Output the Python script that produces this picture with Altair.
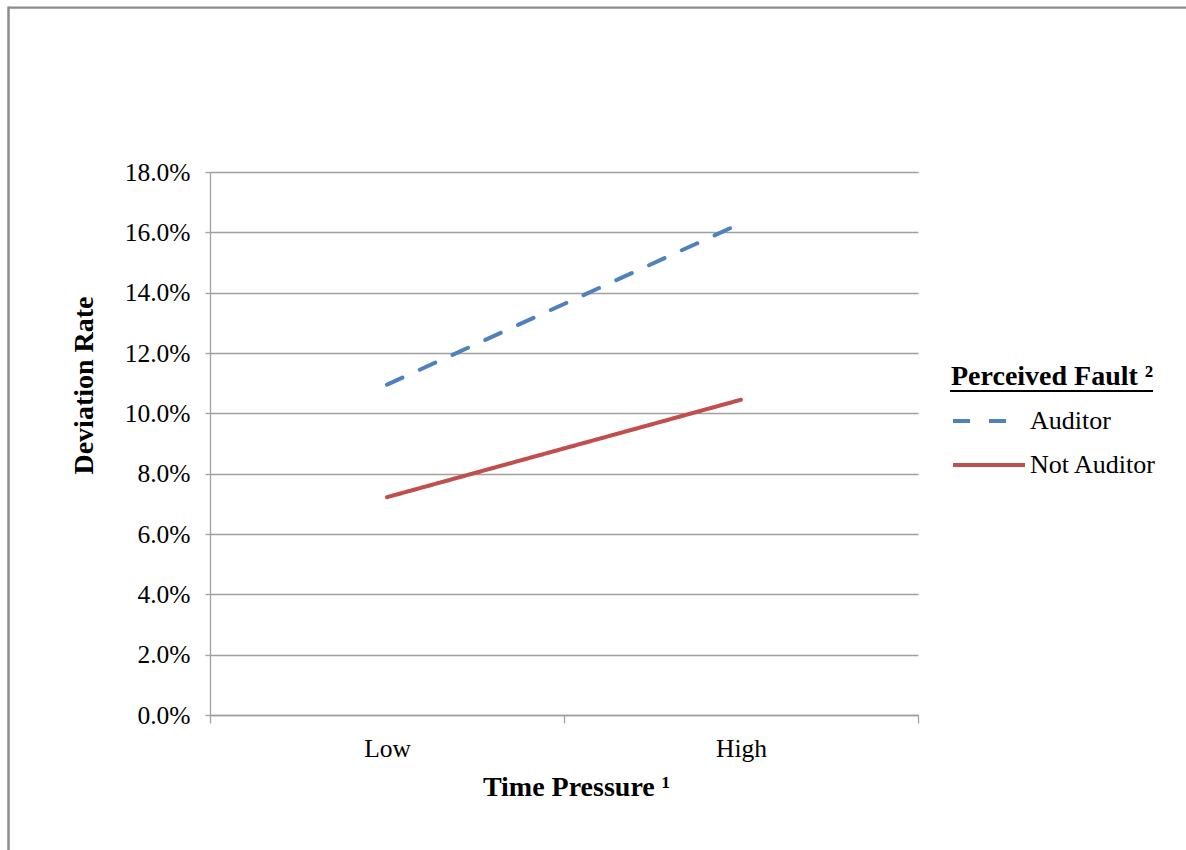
import altair as alt
import pandas as pd

# ---- data ----
time_pressure = ["Low", "High"]
fault_groups = ["Auditor", "Not Auditor"]
auditor_rate = [0.1095, 0.1630]
not_auditor_rate = [0.0722, 0.1045]
y_tick_values = [0.0, 0.02, 0.04, 0.06, 0.08, 0.10, 0.12, 0.14, 0.16, 0.18]
line_colors = ["#4F81BD", "#C0504D"]

rows = []
for tp, a, n in zip(time_pressure, auditor_rate, not_auditor_rate):
    rows.append({"tp": tp, "fault": "Auditor", "rate": a})
    rows.append({"tp": tp, "fault": "Not Auditor", "rate": n})
df = pd.DataFrame(rows)

FONT = "Liberation Serif"
GRID = "#a0a0a0"
W, H = 708, 543

legend = alt.Legend(
    title="Perceived Fault ²",
    orient="none",
    legendX=741,
    legendY=191,
    titleFont=FONT,
    titleFontSize=28,
    titleFontWeight="bold",
    titleColor="black",
    titleLimit=400,
    titlePadding=17,
    labelFont=FONT,
    labelFontSize=26,
    labelColor="black",
    labelOffset=3,
    labelLimit=300,
    symbolType="stroke",
    symbolSize=5184,
    symbolStrokeWidth=4,
    clipHeight=26,
    rowPadding=18,
)

lines = alt.Chart(df).mark_line(strokeWidth=4, strokeCap="round").encode(
    x=alt.X(
        "tp:N",
        sort=time_pressure,
        bandPosition=0.5,
        scale=alt.Scale(type="band", paddingInner=0, paddingOuter=0),
        axis=alt.Axis(
            title="Time Pressure ¹",
            tickBand="extent",
            labelAngle=0,
            labelFont=FONT,
            labelFontSize=25.5,
            labelColor="black",
            labelPadding=13,
            tickSize=8,
            tickColor=GRID,
            tickWidth=1.3,
            domainColor=GRID,
            domainWidth=1.3,
            grid=False,
            titleFont=FONT,
            titleFontSize=28,
            titleFontWeight="bold",
            titleColor="black",
            titleX=366,
            titleY=80,
            titleAlign="center",
            titleBaseline="alphabetic",
        ),
    ),
    y=alt.Y(
        "rate:Q",
        scale=alt.Scale(domain=[0, 0.18], nice=False, zero=True),
        axis=alt.Axis(
            title="Deviation Rate",
            values=y_tick_values,
            format=".1%",
            labelFont=FONT,
            labelFontSize=25.5,
            labelColor="black",
            labelPadding=15,
            tickSize=5,
            tickColor=GRID,
            tickWidth=1.3,
            domainColor=GRID,
            domainWidth=1.3,
            grid=True,
            gridColor=GRID,
            gridWidth=1.3,
            titleFont=FONT,
            titleFontSize=28,
            titleFontWeight="bold",
            titleColor="black",
            titleAngle=270,
            titleX=-118,
            titleY=213,
            titleAlign="center",
            titleBaseline="alphabetic",
        ),
    ),
    color=alt.Color("fault:N", scale=alt.Scale(domain=fault_groups, range=line_colors), legend=legend),
    strokeDash=alt.StrokeDash(
        "fault:N",
        scale=alt.Scale(domain=fault_groups, range=[[17, 19], [1, 0]]),
        legend=legend,
    ),
)

one = pd.DataFrame({"k": [0]})

underline = alt.Chart(one).mark_rule(color="black", strokeWidth=2).encode(
    x=alt.value(740), x2=alt.value(943), y=alt.value(219)
)

border_top = alt.Chart(one).mark_rule(color="#8c8c8c", strokeWidth=2.2).encode(
    x=alt.value(-201.5), x2=alt.value(980), y=alt.value(-164.3)
)
border_left = alt.Chart(one).mark_rule(color="#8c8c8c", strokeWidth=2.5).encode(
    x=alt.value(-201.5), y=alt.value(-165.4), y2=alt.value(690)
)

chart = alt.layer(lines, underline, border_top, border_left).properties(
    width=W,
    height=H,
    autosize="none",
    padding={"left": 210, "top": 172, "right": 268, "bottom": 135},
    background="white",
).configure_view(stroke=None)

chart.save("out.html", embed_options={"renderer": "svg", "actions": False})
